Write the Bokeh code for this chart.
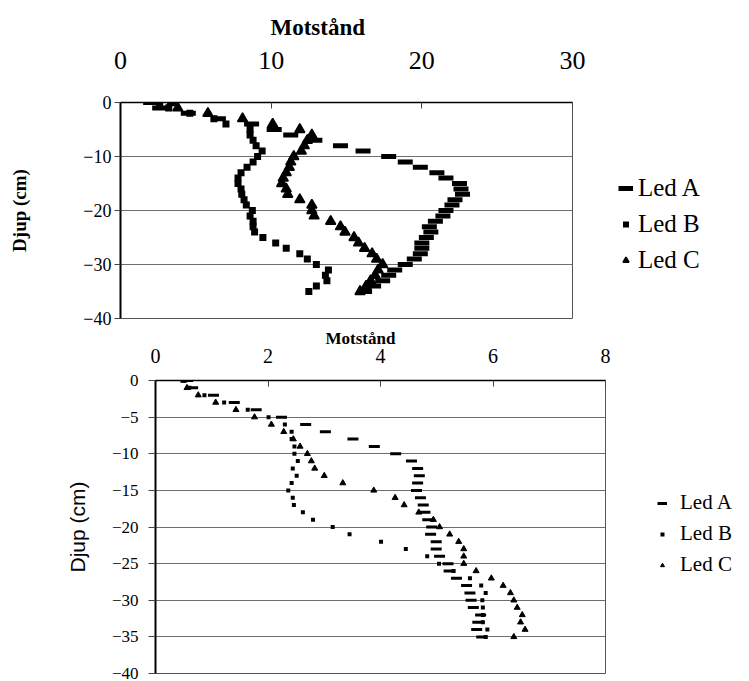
from bokeh.plotting import figure
from bokeh.models import Range1d, FixedTicker, Title, Legend, LegendItem, ColumnDataSource
from bokeh.layouts import column
from bokeh.embed import file_html
from bokeh.resources import INLINE

# ---------------- data ----------------
depth = [0, -1, -2, -3, -4, -5, -6, -7, -8, -9, -10, -11, -12, -13, -14, -15, -16, -17,
         -18, -19, -20, -21, -22, -23, -24, -25, -26, -27, -28, -29, -30, -31, -32, -33, -34, -35]

series_names = ["Led A", "Led B", "Led C"]

# top chart (Motstånd 0-30)
top_led_a = [2.0, 2.6, 4.5, 6.5, 8.7, 10.2, 11.3, 12.9, 14.6, 16.1, 17.8, 18.9, 19.9, 21.0, 21.6,
             22.5, 22.6, 22.7, 22.2, 22.0, 21.6, 21.4, 20.9, 20.5, 20.6, 20.3, 20.0, 20.0, 19.9,
             19.5, 18.9, 18.2, 17.8, 17.4, 16.8, 16.2]
top_led_b = [2.6, 3.2, 4.6, 6.2, 7.0, 8.6, 8.6, 8.8, 9.0, 9.4, 9.1, 8.8, 8.4, 8.0, 7.8, 7.8, 8.0,
             8.05, 8.2, 8.35, 8.75, 8.6, 8.8, 8.8, 8.9, 9.45, 10.3, 11.0, 11.9, 12.4, 13.0, 13.8,
             13.6, 13.7, 13.0, 12.5]
top_led_c = [3.4, 3.8, 5.8, 8.1, 10.1, 11.9, 12.7, 12.4, 12.2, 12.0, 11.5, 11.3, 11.2, 11.0, 10.8,
             10.7, 11.0, 11.1, 11.9, 12.7, 12.7, 12.85, 13.95, 14.6, 14.9, 15.5, 15.8, 16.2, 16.7,
             17.0, 17.4, 17.1, 16.9, 16.6, 16.3, 15.9]

# bottom chart (Motstånd 0-8)
bot_led_a = [0.57, 0.66, 1.03, 1.4, 1.79, 2.24, 2.67, 3.02, 3.51, 3.89, 4.27, 4.55, 4.66, 4.69,
             4.66, 4.64, 4.71, 4.76, 4.79, 4.84, 4.91, 4.89, 4.99, 4.99, 5.05, 5.2, 5.22, 5.35,
             5.53, 5.59, 5.61, 5.65, 5.78, 5.73, 5.71, 5.8]
bot_led_b = [0.5, 0.6, 0.87, 1.22, 1.64, 2.01, 2.3, 2.42, 2.42, 2.47, 2.47, 2.53, 2.44, 2.51, 2.42,
             2.36, 2.44, 2.46, 2.62, 2.8, 3.15, 3.45, 4.01, 4.45, 4.83, 5.04, 5.3, 5.59, 5.79, 5.87,
             5.81, 5.82, 5.82, 5.82, 5.9, 5.87]
bot_led_c = [0.5, 0.56, 0.76, 1.07, 1.43, 1.76, 2.06, 2.28, 2.45, 2.57, 2.7, 2.77, 2.83, 3.0, 3.33,
             3.88, 4.26, 4.42, 4.68, 4.94, 5.05, 5.23, 5.39, 5.48, 5.48, 5.48, 5.7, 5.97, 6.18,
             6.31, 6.37, 6.43, 6.52, 6.49, 6.57, 6.37]

top_x_ticks = [0, 10, 20, 30]
top_y_ticks = [0, -10, -20, -30, -40]
top_grid = [-10, -20, -30]
bot_x_ticks = [0, 2, 4, 6, 8]
bot_y_ticks = [0, -5, -10, -15, -20, -25, -30, -35, -40]
bot_grid = [-5, -10, -15, -20, -25, -30, -35]

x_title = "Motstånd"
y_title = "Djup (cm)"

SERIF = "Liberation Serif"
SANS = "Liberation Sans"


def make_chart(xa, xb, xc, xmax, xticks, yticks, grid, cfg):
    src = ColumnDataSource(dict(d=depth, a=xa, b=xb, c=xc))
    t = Title(text=x_title, text_font=SERIF, text_font_style="bold",
              text_font_size=cfg["title_size"], align="left", offset=cfg["title_offset"],
              standoff=cfg["title_standoff"], text_color="black")
    p = figure(frame_width=cfg["fw"], frame_height=cfg["fh"], output_backend="svg",
               toolbar_location=None, frame_align=False,
               x_range=Range1d(0, xmax), y_range=Range1d(-40, 0), x_axis_location="above",
               title=t, min_border_left=cfg["bl"], min_border_right=cfg["br"],
               min_border_top=cfg["bt"], min_border_bottom=cfg["bb"],
               background_fill_color="white", border_fill_color="white")
    p.outline_line_color = "#555555"
    p.outline_line_width = 1

    xa_ = p.xaxis[0]
    xa_.ticker = FixedTicker(ticks=xticks)
    xa_.major_tick_in = 6
    xa_.major_tick_out = 0
    xa_.minor_tick_line_color = None
    xa_.axis_line_width = 1.5
    xa_.axis_line_color = "black"
    xa_.major_tick_line_color = "#444444"
    xa_.major_label_text_font = SERIF
    xa_.major_label_text_font_size = cfg["xlab_size"]
    xa_.major_label_text_color = "black"
    xa_.major_label_standoff = cfg["xlab_standoff"]

    ya = p.yaxis[0]
    ya.ticker = FixedTicker(ticks=yticks)
    ya.major_tick_in = 0
    ya.major_tick_out = cfg["ytick"]
    ya.minor_tick_line_color = None
    ya.axis_line_width = 2
    ya.axis_line_color = "black"
    ya.major_tick_line_color = "#444444"
    ya.major_label_text_font = SERIF
    ya.major_label_text_font_size = cfg["ylab_size"]
    ya.major_label_text_color = "black"
    ya.major_label_standoff = cfg["ylab_standoff"]
    ya.axis_label = y_title
    ya.axis_label_text_font = cfg["ytitle_font"]
    ya.axis_label_text_font_style = cfg["ytitle_style"]
    ya.axis_label_text_font_size = cfg["ytitle_size"]
    ya.axis_label_text_color = "black"
    ya.axis_label_standoff = cfg["ytitle_standoff"]

    p.xgrid.visible = False
    p.ygrid.ticker = FixedTicker(ticks=grid)
    p.ygrid.grid_line_color = "#6e6e6e"
    p.ygrid.grid_line_width = 1

    p.rect(x="a", y="d", width=cfg["dash_w"], height=cfg["dash_h"], width_units="screen",
           height_units="screen", source=src, fill_color="black", line_color=None)
    rb = p.scatter(x="b", y="d", source=src, marker="square", size=cfg["sq"],
                   fill_color="black", line_color=None)
    rc = p.scatter(x="c", y="d", source=src, marker="triangle", size=cfg["tri"],
                   fill_color="black", line_color="black", line_width=cfg["tri_lw"])
    # zero-length segments: invisible in the plot, give Led A a dash in the legend
    la = p.segment(x0="a", y0="d", x1="a", y1="d", source=src, line_width=cfg["dash_h"],
                   line_color="black", line_cap="butt")

    leg = Legend(items=[LegendItem(label=series_names[0], renderers=[la]),
                        LegendItem(label=series_names[1], renderers=[rb]),
                        LegendItem(label=series_names[2], renderers=[rc])],
                 location=cfg["leg_loc"], orientation="vertical",
                 glyph_width=cfg["gw"], glyph_height=cfg["gh"], label_height=cfg["gh"],
                 label_standoff=cfg["lstand"], spacing=cfg["lspace"], padding=0, margin=0,
                 border_line_color=None, background_fill_alpha=0,
                 label_text_font=SERIF, label_text_font_size=cfg["leg_size"],
                 label_text_color="black")
    p.add_layout(leg, "right")
    return p


top_cfg = dict(fw=452, fh=216, bl=120, br=177, bt=102, bb=10,
               title_size="23px", title_offset=150, title_standoff=18,
               xlab_size="26px", xlab_standoff=34, ylab_size="18px", ylab_standoff=3, ytick=6,
               ytitle_font=SERIF, ytitle_style="bold", ytitle_size="19px", ytitle_standoff=50,
               dash_w=15, dash_h=5, sq=7, tri=10, tri_lw=1.5,
               leg_loc=(46, 43), gw=15, gh=30, lstand=5, lspace=6, leg_size="25px")

bot_cfg = dict(fw=450, fh=293, bl=155, br=144, bt=50, bb=6,
               title_size="17px", title_offset=170, title_standoff=-4,
               xlab_size="20px", xlab_standoff=18, ylab_size="17px", ylab_standoff=10, ytick=7,
               ytitle_font=SANS, ytitle_style="normal", ytitle_size="21px", ytitle_standoff=20,
               dash_w=11, dash_h=3, sq=4, tri=6, tri_lw=1,
               leg_loc=(52, 96), gw=10, gh=24, lstand=13, lspace=6, leg_size="21px")

p1 = make_chart(top_led_a, top_led_b, top_led_c, 30, top_x_ticks, top_y_ticks, top_grid, top_cfg)
p2 = make_chart(bot_led_a, bot_led_b, bot_led_c, 8, bot_x_ticks, bot_y_ticks, bot_grid, bot_cfg)

page = column(p1, p2, spacing=0)
open("out.html", "w").write(file_html(page, INLINE))
